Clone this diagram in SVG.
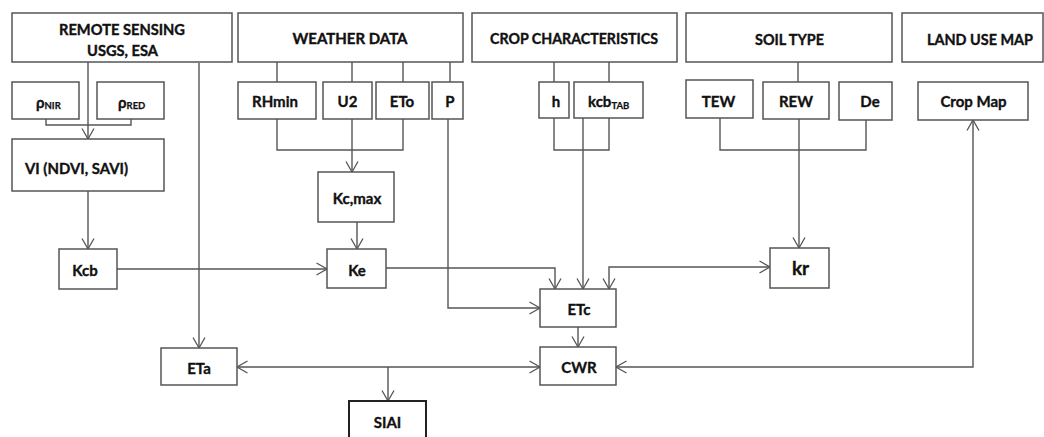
<svg xmlns="http://www.w3.org/2000/svg" width="1044" height="437" viewBox="0 0 1044 437">
  <defs>
    <marker id="arrow" markerUnits="userSpaceOnUse" markerWidth="14" markerHeight="14" viewBox="0 0 14 14" refX="12" refY="7" orient="auto-start-reverse">
      <path d="M1.5,1 L12,7 L1.5,13" fill="none" stroke="#555" stroke-width="1.3"/>
    </marker>
  </defs>
  <style>
    .box { fill: #fff; stroke: #555; stroke-width: 1.5; }
    .bold-box { fill: #fff; stroke: #222; stroke-width: 2; }
    .lbl { font-family: Lato, "Liberation Sans", sans-serif; font-weight: 700; font-size: 15px; fill: #111; stroke: #111; stroke-width: 0.35; text-anchor: middle; }
    .hdr { font-family: Lato, "Liberation Sans", sans-serif; font-weight: 700; font-size: 15.5px; fill: #111; stroke: #111; stroke-width: 0.4; text-anchor: middle; }
    .start { text-anchor: start; }
    .sub { font-size: 9.5px; stroke-width: 0.25; }
    .wire { fill: none; stroke: #555; stroke-width: 1.4; }
    .arr { marker-end: url(#arrow); }
    .both { marker-start: url(#arrow); marker-end: url(#arrow); }
  </style>
  <rect width="1044" height="437" fill="#fff"/>

  <!-- connectors -->
  <g id="connectors">
    <!-- remote sensing -->
    <path class="wire arr" d="M88,62 V139"/>
    <path class="wire" d="M46,119 V125 H131 V119"/>
    <path class="wire arr" d="M88,191 V249"/>
    <path class="wire arr" d="M199,63 V348"/>
    <path class="wire arr" d="M117,269 H327"/>
    <!-- weather data -->
    <path class="wire" d="M277,62 V82 M352,62 V82 M403,62 V82 M450,62 V82"/>
    <path class="wire" d="M277,119 V150 H403 V119"/>
    <path class="wire arr" d="M352,119 V172"/>
    <path class="wire arr" d="M357,222 V249"/>
    <path class="wire arr" d="M448,119 V308 H540"/>
    <path class="wire arr" d="M386,268 H555 V289"/>
    <!-- crop characteristics -->
    <path class="wire" d="M554,62 V82 M609,62 V82"/>
    <path class="wire" d="M554,118 V150 H609 V118"/>
    <path class="wire arr" d="M583,118 V289"/>
    <!-- soil type -->
    <path class="wire" d="M798,62 V82"/>
    <path class="wire" d="M720,118 V150 H866 V120"/>
    <path class="wire arr" d="M799,119 V248"/>
    <path class="wire both" d="M609,289 V267 H770"/>
    <!-- outputs -->
    <path class="wire arr" d="M578,327 V347"/>
    <path class="wire both" d="M237,367 H540"/>
    <path class="wire arr" d="M388,367 V401"/>
    <path class="wire both" d="M973,120 V367 H616"/>
  </g>

  <!-- top-level sources -->
  <g id="remote-sensing">
    <rect class="box" x="12" y="13" width="220" height="49"/>
    <text class="hdr" x="122" y="35" textLength="126" lengthAdjust="spacingAndGlyphs">REMOTE SENSING</text>
    <text class="hdr" x="122.5" y="56" textLength="71" lengthAdjust="spacingAndGlyphs">USGS, ESA</text>
  </g>
  <g id="weather-data">
    <rect class="box" x="238" y="13" width="225" height="49"/>
    <text class="hdr" x="350" y="44" textLength="115" lengthAdjust="spacingAndGlyphs">WEATHER DATA</text>
  </g>
  <g id="crop-characteristics">
    <rect class="box" x="472" y="13" width="205" height="49"/>
    <text class="hdr" x="574" y="44" textLength="168" lengthAdjust="spacingAndGlyphs">CROP CHARACTERISTICS</text>
  </g>
  <g id="soil-type">
    <rect class="box" x="686" y="13" width="206" height="49"/>
    <text class="hdr" x="789.5" y="45" textLength="69" lengthAdjust="spacingAndGlyphs">SOIL TYPE</text>
  </g>
  <g id="land-use-map">
    <rect class="box" x="902" y="13" width="141" height="49"/>
    <text class="hdr" x="980" y="45" textLength="106" lengthAdjust="spacingAndGlyphs">LAND USE MAP</text>
  </g>

  <!-- inputs -->
  <g id="rho-nir">
    <rect class="box" x="12" y="82" width="67" height="37"/>
    <text class="lbl start" x="36" y="108">ρ<tspan class="sub" dy="1">NIR</tspan></text>
  </g>
  <g id="rho-red">
    <rect class="box" x="97" y="82" width="67" height="37"/>
    <text class="lbl start" x="118" y="108">ρ<tspan class="sub" dy="1">RED</tspan></text>
  </g>
  <g id="vi">
    <rect class="box" x="12" y="139" width="152" height="52"/>
    <text class="lbl start" x="25" y="174" textLength="103" lengthAdjust="spacingAndGlyphs">VI (NDVI, SAVI)</text>
  </g>
  <g id="rhmin">
    <rect class="box" x="238" y="82" width="78" height="37"/>
    <text class="lbl" x="275" y="107">RHmin</text>
  </g>
  <g id="u2">
    <rect class="box" x="323" y="82" width="49" height="37"/>
    <text class="lbl" x="347.5" y="107">U2</text>
  </g>
  <g id="eto">
    <rect class="box" x="376" y="82" width="53" height="37"/>
    <text class="lbl" x="402" y="107">ETo</text>
  </g>
  <g id="p">
    <rect class="box" x="432" y="82" width="31" height="37"/>
    <text class="lbl" x="450" y="107">P</text>
  </g>
  <g id="h">
    <rect class="box" x="539" y="82" width="30" height="36"/>
    <text class="lbl" x="556" y="107">h</text>
  </g>
  <g id="kcb-tab">
    <rect class="box" x="574" y="82" width="69" height="36"/>
    <text class="lbl start" x="588" y="107">kcb<tspan class="sub" dy="2">TAB</tspan></text>
  </g>
  <g id="tew">
    <rect class="box" x="686" y="80" width="67" height="38"/>
    <text class="lbl" x="718.5" y="107">TEW</text>
  </g>
  <g id="rew">
    <rect class="box" x="763" y="82" width="66" height="37"/>
    <text class="lbl" x="796" y="107">REW</text>
  </g>
  <g id="de">
    <rect class="box" x="839" y="82" width="53" height="38"/>
    <text class="lbl" x="870" y="107">De</text>
  </g>
  <g id="crop-map">
    <rect class="box" x="918" y="82" width="110" height="38"/>
    <text class="lbl" x="973.5" y="107">Crop Map</text>
  </g>

  <!-- intermediate coefficients -->
  <g id="kc-max">
    <rect class="box" x="318" y="172" width="76" height="50"/>
    <text class="lbl" x="357" y="204">Kc,max</text>
  </g>
  <g id="kcb">
    <rect class="box" x="59" y="249" width="58" height="40"/>
    <text class="lbl" x="85" y="276">Kcb</text>
  </g>
  <g id="ke">
    <rect class="box" x="327" y="249" width="59" height="39"/>
    <text class="lbl" x="357" y="276">Ke</text>
  </g>
  <g id="kr">
    <rect class="box" x="770" y="248" width="59" height="40"/>
    <text class="lbl" x="800.5" y="275" style="font-size:19px">kr</text>
  </g>

  <!-- results -->
  <g id="etc">
    <rect class="box" x="540" y="289" width="76" height="38"/>
    <text class="lbl" x="579" y="315">ETc</text>
  </g>
  <g id="cwr">
    <rect class="box" x="540" y="347" width="76" height="38"/>
    <text class="lbl" x="579" y="373">CWR</text>
  </g>
  <g id="eta">
    <rect class="box" x="161" y="348" width="76" height="37"/>
    <text class="lbl" x="199" y="374">ETa</text>
  </g>
  <g id="siai">
    <rect class="bold-box" x="349" y="401" width="77" height="45"/>
    <text class="lbl" x="387.5" y="428">SIAI</text>
  </g>
</svg>
